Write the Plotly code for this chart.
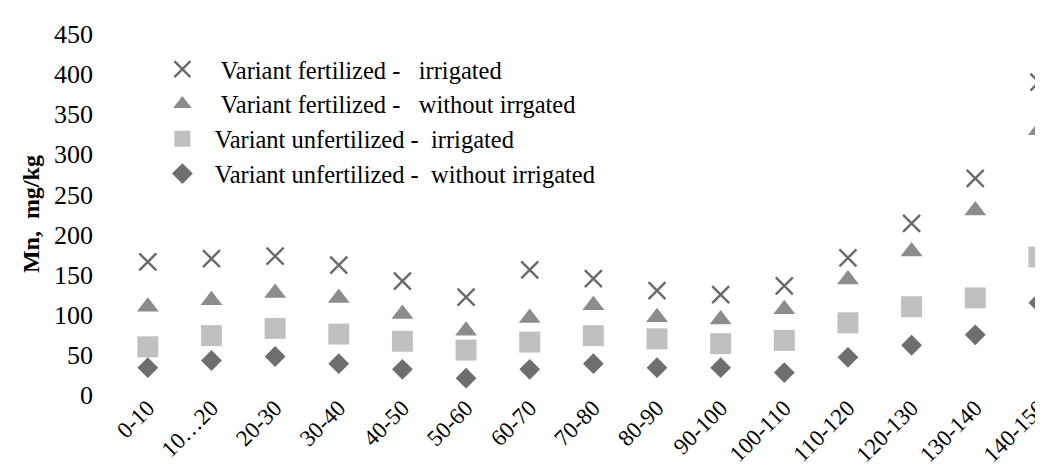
import plotly.graph_objects as go

categories = ["0-10", "10\u202620", "20-30", "30-40", "40-50", "50-60", "60-70", "70-80",
              "80-90", "90-100", "100-110", "110-120", "120-130", "130-140", "140-150"]

fert_irrigated = [166, 170, 173, 162, 142, 122, 156, 145, 130, 125, 136, 171, 214, 270, 390]
fert_without = [110, 118, 127, 121, 101, 80, 96, 112, 97, 94, 107, 144, 179, 230, 330]
unfert_irrigated = [60, 74, 83, 76, 67, 56, 66, 74, 70, 64, 68, 90, 110, 121, 172]
unfert_without = [34, 43, 48, 39, 32, 21, 32, 39, 34, 34, 28, 47, 62, 75, 115]

names = ["\u00a0\u00a0\u00a0Variant fertilized -\u00a0\u00a0 irrigated",
         "\u00a0\u00a0\u00a0Variant fertilized -\u00a0\u00a0 without irrgated",
         "\u00a0\u00a0Variant unfertilized -\u00a0 irrigated",
         "\u00a0\u00a0Variant unfertilized -\u00a0 without irrigated"]

FONT = "Liberation Serif"

fig = go.Figure()
fig.add_trace(go.Scatter(x=categories, y=fert_irrigated, mode="markers", name=names[0],
                         marker=dict(symbol="x-thin-open", size=17, color="#6a6a6a",
                                     line=dict(color="#6a6a6a", width=2.4))))
fig.add_trace(go.Scatter(x=categories, y=fert_without, mode="markers", name=names[1],
                         marker=dict(symbol="triangle-up", size=19, color="#8c8c8c",
                                     line=dict(width=0))))
fig.add_trace(go.Scatter(x=categories, y=unfert_irrigated, mode="markers", name=names[2],
                         marker=dict(symbol="square", size=21, color="#c0c0c0",
                                     line=dict(width=0))))
fig.add_trace(go.Scatter(x=categories, y=unfert_without, mode="markers", name=names[3],
                         marker=dict(symbol="diamond", size=16, color="#6e6e6e",
                                     line=dict(width=0))))

fig.update_layout(
    width=1043, height=469,
    margin=dict(l=108, r=0, t=26, b=82),
    paper_bgcolor="white", plot_bgcolor="white",
    font=dict(family=FONT, color="black", size=24),
    showlegend=True,
    legend=dict(x=0.05, y=0.965, xanchor="left", yanchor="top",
                font=dict(family=FONT, size=24.5, color="black"),
                bgcolor="rgba(0,0,0,0)", tracegroupgap=0),
    xaxis=dict(type="category", range=[-0.5, 14.08], showgrid=False, zeroline=False,
               showline=False, tickangle=-45, ticks="", ticklabelstandoff=-6,
               tickfont=dict(family=FONT, size=23, color="black")),
    yaxis=dict(range=[0, 450], dtick=50, showgrid=False, zeroline=False, showline=False,
               ticks="", ticklabelstandoff=22,
               tickfont=dict(family=FONT, size=26, color="black")),
    annotations=[dict(text="<b>Mn,\u00a0 mg/kg</b>", xref="paper", yref="paper",
                      x=-0.092, y=0.5, xanchor="center", yanchor="middle",
                      textangle=-90, showarrow=False,
                      font=dict(family=FONT, size=24, color="black"))],
)

fig.write_html("out.html")
